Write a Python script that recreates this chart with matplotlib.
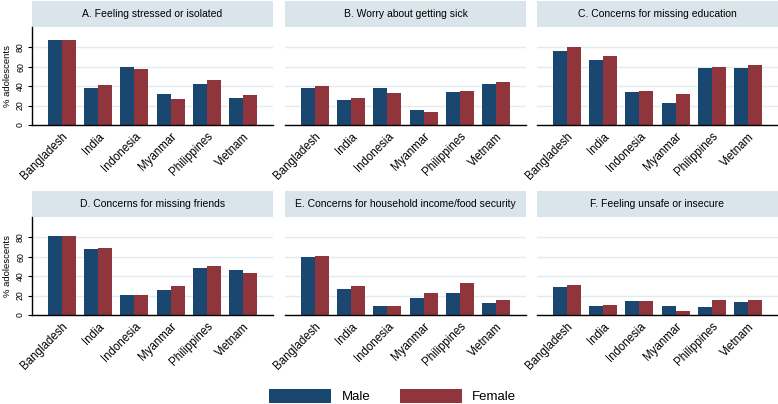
import matplotlib

matplotlib.use("Agg")
import matplotlib.pyplot as plt
from matplotlib.patches import Patch, Rectangle
import numpy as np

plt.rcParams["font.family"] = ["Liberation Sans", "DejaVu Sans"]

countries = ["Bangladesh", "India", "Indonesia", "Myanmar", "Philippines", "Vietnam"]
titles = ["A. Feeling stressed or isolated",
          "B. Worry about getting sick",
          "C. Concerns for missing education",
          "D. Concerns for missing friends",
          "E. Concerns for household income/food security",
          "F. Feeling unsafe or insecure"]

male_a = [87.8, 38.6, 59.7, 31.8, 42.4, 27.6]
female_a = [87.3, 41.4, 58.0, 26.9, 46.0, 31.4]
male_b = [38.6, 25.9, 38.0, 15.2, 33.8, 42.1]
female_b = [39.7, 28.3, 32.8, 13.8, 35.5, 44.2]
male_c = [75.9, 66.6, 33.8, 22.5, 59.0, 58.7]
female_c = [80.0, 71.4, 34.9, 31.8, 59.3, 61.8]
male_d = [81.0, 68.0, 20.2, 25.8, 48.0, 46.0]
female_d = [81.8, 69.0, 20.9, 29.9, 50.5, 43.6]
male_e = [59.4, 27.1, 8.9, 17.8, 22.3, 12.4]
female_e = [60.8, 29.9, 9.3, 22.7, 32.6, 15.5]
male_f = [28.9, 9.6, 14.0, 9.6, 7.8, 13.0]
female_f = [30.5, 10.3, 14.4, 4.4, 15.8, 15.8]

males = [male_a, male_b, male_c, male_d, male_e, male_f]
females = [female_a, female_b, female_c, female_d, female_e, female_f]

NAVY = "#1a476f"
MAROON = "#90353b"
STRIP = "#d9e5eb"
GRID = "#e2ebef"

W, H = 778, 404
fig = plt.figure(figsize=(W / 100, H / 100), dpi=100)

lefts = [32, 285, 537]
width = 241
tops = [27, 217]
height = 98
strip_h = 26

x = np.arange(len(countries))
bw = 0.385

for i in range(6):
    r, c = divmod(i, 3)
    ax = fig.add_axes([lefts[c] / W, 1 - (tops[r] + height) / H, width / W, height / H])
    ax.bar(x - bw / 2, males[i], bw, color=NAVY, zorder=2)
    ax.bar(x + bw / 2, females[i], bw, color=MAROON, zorder=2)
    ax.set_xlim(-0.82, 5.82)
    ax.set_ylim(0, 101)
    ax.set_yticks([0, 20, 40, 60, 80])
    ax.yaxis.grid(True, color=GRID, lw=1, zorder=0)
    ax.set_xticks(x)
    ax.set_xticklabels(countries, rotation=45, ha="right", rotation_mode="anchor",
                       fontsize=8.3)
    ax.tick_params(axis="x", length=0, pad=4)
    for s in ["top", "right"]:
        ax.spines[s].set_visible(False)
    ax.spines["bottom"].set_color("black")
    ax.spines["bottom"].set_linewidth(1)
    if c == 0:
        ax.spines["left"].set_color("black")
        ax.spines["left"].set_linewidth(1)
        ax.tick_params(axis="y", length=3, width=0.8, labelsize=6.3, pad=2)
        for lab in ax.get_yticklabels():
            lab.set_rotation(90)
            lab.set_va("center")
        ax.set_ylabel("% adolescents", fontsize=6.8, labelpad=3)
    else:
        ax.spines["left"].set_visible(False)
        ax.tick_params(axis="y", length=0, labelleft=False)
    # title strip above each panel
    ax.add_patch(Rectangle((0, 1), 1, strip_h / height, transform=ax.transAxes,
                           facecolor=STRIP, edgecolor="none", clip_on=False))
    ax.text(0.5, 1 + strip_h / height / 2, titles[i], transform=ax.transAxes,
            ha="center", va="center", fontsize=7.5)

handles = [Patch(facecolor=NAVY, label="Male"), Patch(facecolor=MAROON, label="Female")]
fig.legend(handles=handles, loc="center", bbox_to_anchor=(0.505, 1 - 396 / H), ncol=2,
           frameon=False, fontsize=9.5, handlelength=4.7, handleheight=1.3,
           columnspacing=2.2, handletextpad=0.8)

fig.savefig("out.png", dpi=100)
